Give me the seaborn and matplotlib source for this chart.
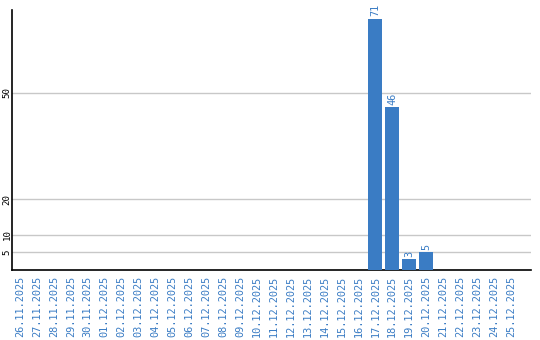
import matplotlib
matplotlib.use("Agg")
import matplotlib.pyplot as plt
import seaborn as sns
import pandas as pd

dates = ["26.11.2025", "27.11.2025", "28.11.2025", "29.11.2025", "30.11.2025",
         "01.12.2025", "02.12.2025", "03.12.2025", "04.12.2025", "05.12.2025",
         "06.12.2025", "07.12.2025", "08.12.2025", "09.12.2025", "10.12.2025",
         "11.12.2025", "12.12.2025", "13.12.2025", "14.12.2025", "15.12.2025",
         "16.12.2025", "17.12.2025", "18.12.2025", "19.12.2025", "20.12.2025",
         "21.12.2025", "22.12.2025", "23.12.2025", "24.12.2025", "25.12.2025"]
values = [0, 0, 0, 0, 0, 0, 0, 0, 0, 0,
          0, 0, 0, 0, 0, 0, 0, 0, 0, 0,
          0, 71, 46, 3, 5, 0, 0, 0, 0, 0]
y_ticks = [5, 10, 20, 50]

BLUE = "#3a7cc4"
sns.set_style("white")
plt.rcParams['font.family'] = ['DejaVu Sans Mono', 'DejaVu Sans']

df = pd.DataFrame({"date": dates, "value": values})

fig = plt.figure(figsize=(5.4, 3.4), dpi=100)
ax = fig.add_axes([11.5 / 540, 1 - 270 / 340, (531 - 11.5) / 540, 260 / 340])

sns.barplot(data=df, x="date", y="value", color=BLUE, saturation=1, width=0.82,
            linewidth=0, ax=ax, zorder=3)

ax.set_ylim(0, 73.4)
ax.set_xlim(-0.5, 30.2)
ax.set_yticks(y_ticks)
ax.set_yticklabels([str(t) for t in y_ticks], rotation=90, fontsize=6.6, va="center",
                   color="black")
ax.yaxis.grid(True, color="#c8c8c8", linewidth=1, zorder=0)
ax.set_axisbelow(True)
ax.tick_params(axis="y", length=0, pad=0)
ax.tick_params(axis="x", length=0, pad=4)
ax.set_xticks(range(len(dates)))
ax.set_xticklabels(dates, rotation=90, fontsize=7.4, color=BLUE)
ax.set_xlabel("")
ax.set_ylabel("")

for s in ["top", "right"]:
    ax.spines[s].set_visible(False)
for s in ["left", "bottom"]:
    ax.spines[s].set_color("black")
    ax.spines[s].set_linewidth(1.2)

for i, v in enumerate(values):
    if v > 0:
        ax.text(i, v + 0.6, str(v), rotation=90, ha="center", va="bottom",
                fontsize=7.4, color=BLUE, clip_on=False)

fig.savefig("out.png", dpi=100)
